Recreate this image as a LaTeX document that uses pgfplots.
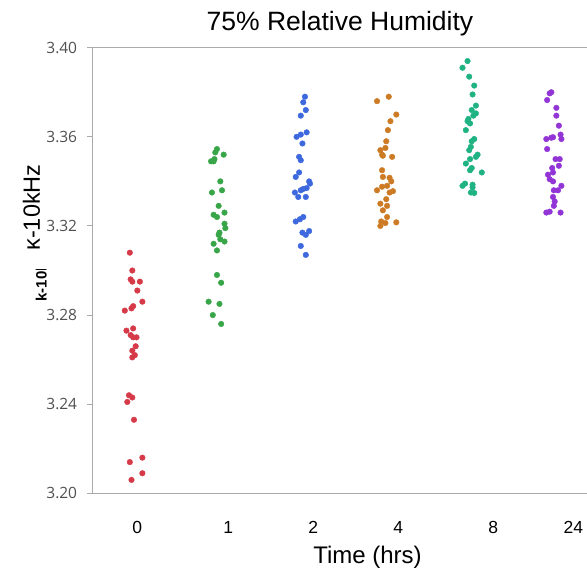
\documentclass[border=0pt]{standalone}
\usepackage{fontspec}
\setmainfont{Liberation Sans}
\newfontfamily\tickfont{Open Sans}
\usepackage{pgfplots}
\pgfplotsset{compat=1.18}
\usepackage{pgfplotstable}

\definecolor{cred}{RGB}{214,58,72}
\definecolor{cgreen}{RGB}{56,166,72}
\definecolor{cblue}{RGB}{62,105,222}
\definecolor{corange}{RGB}{205,122,36}
\definecolor{cteal}{RGB}{31,178,130}
\definecolor{cpurple}{RGB}{146,52,214}
\definecolor{axisgray}{RGB}{170,170,170}
\definecolor{ticklabelgray}{RGB}{80,80,80}

% x = category index (0:"0", 1:"1", 2:"2", 3:"4", 4:"8", 5:"24") + jitter
\pgfplotstableread{
x y
-0.05 3.308
-0.02 3.300
-0.04 3.296
-0.02 3.295
0.07 3.295
0.04 3.291
0.10 3.286
-0.01 3.284
-0.03 3.283
-0.11 3.282
-0.01 3.274
-0.09 3.273
-0.04 3.271
0.03 3.270
-0.01 3.270
0.02 3.266
-0.02 3.264
0.01 3.262
-0.02 3.261
-0.06 3.244
-0.02 3.243
-0.08 3.241
0.00 3.233
0.10 3.216
-0.05 3.214
0.10 3.209
-0.03 3.206
}\gzero

\pgfplotstableread{
x y
0.99 3.3545
0.97 3.353
1.07 3.352
0.96 3.350
0.92 3.349
0.95 3.349
1.03 3.340
0.93 3.335
1.05 3.336
1.01 3.329
0.95 3.325
0.99 3.324
1.08 3.326
1.08 3.321
1.09 3.319
1.02 3.317
1.01 3.316
1.03 3.314
1.08 3.313
0.95 3.312
0.99 3.309
0.99 3.298
1.04 3.2945
0.89 3.286
1.02 3.285
0.94 3.280
1.04 3.276
}\gone

\pgfplotstableread{
x y
2.04 3.378
2.02 3.3755
2.05 3.372
1.99 3.3695
2.06 3.362
1.99 3.361
1.94 3.360
2.01 3.357
1.97 3.351
1.99 3.3495
1.97 3.344
1.93 3.342
2.09 3.340
2.10 3.339
2.06 3.337
2.02 3.3366
1.99 3.336
1.92 3.335
1.96 3.333
2.05 3.333
2.02 3.324
1.98 3.323
1.93 3.322
2.01 3.317
2.09 3.3177
2.05 3.316
1.99 3.311
2.05 3.307
}\gtwo

\pgfplotstableread{
x y
3.04 3.378
2.90 3.376
3.13 3.370
3.06 3.367
3.03 3.363
3.01 3.358
3.00 3.355
2.94 3.354
2.96 3.352
2.97 3.3515
3.08 3.351
2.96 3.345
2.97 3.342
3.05 3.3416
3.07 3.340
3.02 3.338
2.96 3.3376
2.90 3.336
3.09 3.3356
3.05 3.335
3.01 3.332
2.94 3.330
3.02 3.329
2.97 3.327
3.02 3.324
2.95 3.322
3.13 3.3216
3.00 3.3213
2.94 3.320
}\gfour

\pgfplotstableread{
x y
3.98 3.394
3.92 3.391
4.00 3.387
4.06 3.383
4.04 3.379
4.08 3.374
4.03 3.372
4.08 3.3705
4.05 3.3695
3.99 3.368
3.98 3.367
4.01 3.366
3.96 3.363
4.06 3.359
4.03 3.358
4.02 3.3555
4.00 3.354
4.10 3.352
4.08 3.351
4.01 3.350
3.96 3.348
4.03 3.346
4.01 3.345
4.15 3.344
3.95 3.339
3.92 3.338
4.04 3.3385
4.04 3.3373
4.02 3.335
4.06 3.3348
}\geight

\pgfplotstableread{
x y
4.98 3.380
4.96 3.3795
4.93 3.3765
5.04 3.373
5.04 3.3695
5.07 3.365
5.09 3.361
4.98 3.3596
5.00 3.3598
4.92 3.359
5.10 3.359
4.93 3.3545
5.03 3.350
5.08 3.350
5.07 3.347
4.99 3.346
5.00 3.344
4.94 3.343
4.96 3.341
5.00 3.340
5.10 3.338
5.01 3.336
5.06 3.336
5.00 3.333
5.02 3.331
5.01 3.329
4.92 3.326
4.96 3.3264
5.09 3.326
}\gtwentyfour

\begin{document}
\begin{tikzpicture}[x=1bp,y=1bp]
\path[use as bounding box] (-93,-75.7) rectangle (494,493.3);
\begin{axis}[
  width=494bp, height=445.6bp, scale only axis,
  xmin=-0.4893, xmax=5.4057, ymin=3.20, ymax=3.40,
  axis x line*=box, axis y line*=left,
  axis line style={draw=axisgray, line width=1bp},
  xtick={0.039,1.125,2.140,3.154,4.288,5.242},
  xticklabels={0,1,2,4,8,24},
  x tick style={draw=none},
  xticklabel style={font=\fontsize{17.5bp}{20bp}\selectfont, anchor=base, yshift=-34.4bp, inner sep=0pt},
  ytick={3.20,3.24,3.28,3.32,3.36,3.40},
  yticklabels={3.20,3.24,3.28,3.32,3.36,3.40},
  y tick style={draw=axisgray, line width=1bp},
  tick align=outside, major tick length=6bp,
  yticklabel style={font=\tickfont\fontsize{15.5bp}{18bp}\selectfont, text=ticklabelgray, anchor=east, inner sep=0pt, xshift=-9.7bp},
  clip=false,
  every axis plot/.append style={only marks, mark=*, mark size=2.8bp},
]
\addplot[cred, mark options={draw=cred, fill=cred}] table {\gzero};
\addplot[cgreen, mark options={draw=cgreen, fill=cgreen}] table {\gone};
\addplot[cblue, mark options={draw=cblue, fill=cblue}] table {\gtwo};
\addplot[corange, mark options={draw=corange, fill=corange}] table {\gfour};
\addplot[cteal, mark options={draw=cteal, fill=cteal}] table {\geight};
\addplot[cpurple, mark options={draw=cpurple, fill=cpurple}] table {\gtwentyfour};
\end{axis}
% title
\node[anchor=base, inner sep=0pt, font=\fontsize{26.5bp}{30bp}\selectfont] at (247,462.6) {75\% Relative Humidity};
% x label
\node[anchor=base, inner sep=0pt, font=\fontsize{24bp}{28bp}\selectfont] at (274.5,-70) {Time (hrs)};
% y label
\node[rotate=90, anchor=base, inner sep=0pt, font=\fontsize{23.5bp}{27bp}\selectfont] at (-53.2,285.8) {κ-10kHz};
% partially hidden older label
\begin{scope}
\clip (-70,150) rectangle (-35,223.3);
\node[rotate=90, anchor=base west, inner sep=0pt, font=\fontsize{15bp}{18bp}\selectfont\bfseries] at (-46.3,191.6) {k-10kHz};
\end{scope}
\end{tikzpicture}
\end{document}
